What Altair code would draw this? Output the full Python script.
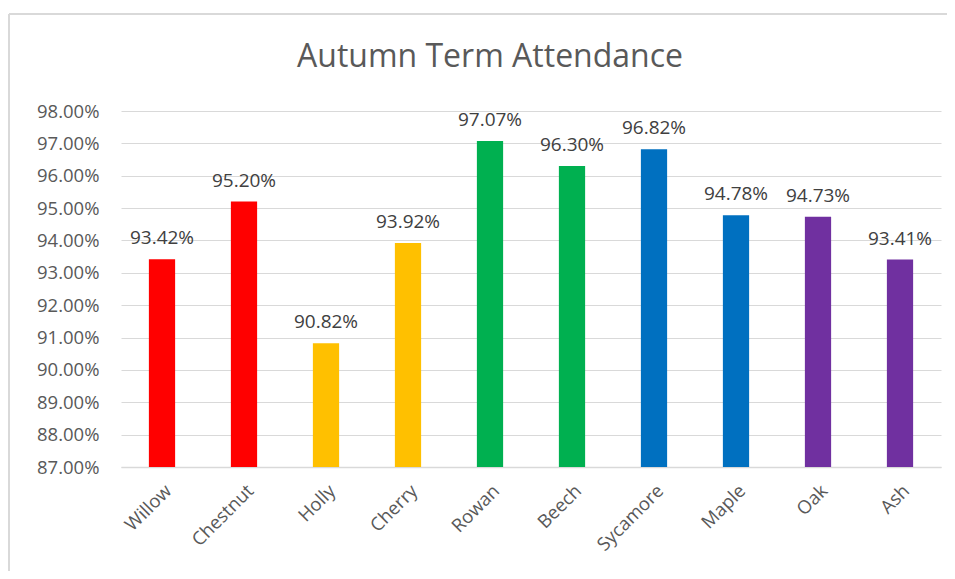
import altair as alt
import pandas as pd

houses = ["Willow", "Chestnut", "Holly", "Cherry", "Rowan", "Beech", "Sycamore", "Maple", "Oak", "Ash"]
attendance = [93.42, 95.20, 90.82, 93.92, 97.07, 96.30, 96.82, 94.78, 94.73, 93.41]
colors = ["#FF0000", "#FF0000", "#FFC000", "#FFC000", "#00B050", "#00B050", "#0070C0", "#0070C0", "#7030A0", "#7030A0"]
y_ticks = [87, 88, 89, 90, 91, 92, 93, 94, 95, 96, 97, 98]
title_text = "Autumn Term Attendance"

df = pd.DataFrame({"house": houses, "value": attendance, "color": colors})
df["label"] = df["value"].map(lambda v: f"{v:.2f}%")

FONT = "Open Sans"

x = alt.X("house:N", sort=houses, title=None,
          scale=alt.Scale(paddingInner=0.68, paddingOuter=0.34),
          axis=alt.Axis(labelAngle=-45, labelFontSize=18.5, labelColor="#595959", labelFont=FONT,
                        labelPadding=14, ticks=False, domainColor="#D9D9D9", domainWidth=1.5,
                        grid=False, labelOverlap=False))
y = alt.Y("value:Q", title=None,
          scale=alt.Scale(domain=[87, 98], zero=False, nice=False),
          axis=alt.Axis(values=y_ticks, labelExpr="format(datum.value, '.2f') + '%'",
                        labelFontSize=18.5, labelColor="#595959", labelFont=FONT, labelPadding=22,
                        ticks=False, domain=False, gridColor="#D9D9D9", gridWidth=1,
                        labelOverlap=False))

base = alt.Chart(df).encode(x=x, y=y)

bars = base.mark_bar().encode(y2=alt.datum(87), color=alt.Color("color:N", scale=None))

labels = base.mark_text(baseline="alphabetic", dy=-15, fontSize=19, font=FONT, color="#404040").encode(
    text="label:N")

top_border = alt.Chart(df).mark_rule(stroke="#D9D9D9", strokeWidth=1.5).encode(
    x=alt.value(-112), x2=alt.value(826), y=alt.value(-97))
left_border = alt.Chart(df).mark_rule(stroke="#D9D9D9", strokeWidth=1.5).encode(
    x=alt.value(-112), y=alt.value(-97), y2=alt.value(460))

title = alt.Chart(pd.DataFrame({"t": [title_text]})).mark_text(
    font=FONT, fontSize=32, color="#595959", baseline="middle", align="center").encode(
    text="t:N", x=alt.value(369), y=alt.value(-54))

chart = alt.layer(bars, labels, top_border, left_border, title).properties(
    width=820, height=356,
    background="white",
    autosize=alt.AutoSizeParams(type="none"),
    padding={"left": 113, "top": 103, "right": 6, "bottom": 104},
).configure_view(strokeWidth=0)

chart.save("out.html", embed_options={"renderer": "svg", "actions": False})
